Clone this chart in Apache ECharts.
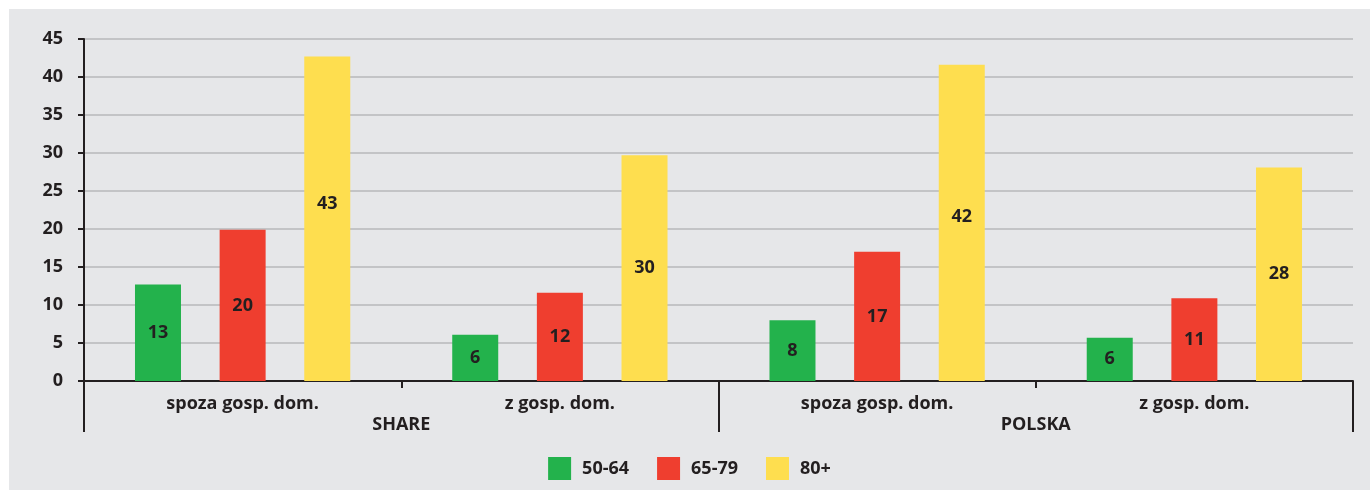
<!DOCTYPE html>
<html>
<head>
<meta charset="utf-8">
<script src="https://cdn.jsdelivr.net/npm/echarts@6/dist/echarts.min.js"></script>
<style>
  html, body { margin: 0; padding: 0; background: #ffffff; width: 1370px; height: 490px; overflow: hidden; }
  #chart { position: absolute; left: 9px; top: 9px; width: 1361px; height: 481px; background: #e6e7e9; }
</style>
</head>
<body>
<div id="chart"></div>
<script>
// Data
const categories = ['spoza gosp. dom.', 'z gosp. dom.', 'spoza gosp. dom.', 'z gosp. dom.'];
const groups = ['SHARE', 'POLSKA'];
const seriesNames = ['50-64', '65-79', '80+'];
const values5064 = [12.7, 6.1, 8.0, 5.7];
const values6579 = [19.9, 11.6, 17.0, 10.9];
const values80 = [42.7, 29.7, 41.6, 28.1];
const yTicks = [0, 5, 10, 15, 20, 25, 30, 35, 40, 45];

const colors = ['#23b24c', '#ef3e2f', '#fede4f'];
const textColor = '#231f20';
const fontFamily = '"Open Sans", "Noto Sans", sans-serif';
const fs = 18;

const chart = echarts.init(document.getElementById('chart'));

// vertical label nudges (pixels) as in the reference, keyed by series index and category index
const labelNudge = { '2-0': -15, '2-2': -6 };

function makeSeries(idx, name, data, color) {
  return {
    name: name,
    type: 'bar',
    data: data.map((v, i) => {
      const n = labelNudge[idx + '-' + i];
      return n ? { value: v, label: { offset: [0, n] } } : v;
    }),
    barWidth: 46,
    barGap: '84%',
    itemStyle: { color: color },
    label: {
      show: true,
      position: 'inside',
      color: textColor,
      fontFamily: fontFamily,
      fontWeight: 'bold',
      fontSize: fs,
      formatter: p => String(Math.round(p.value))
    }
  };
}

chart.setOption({
  animation: false,
  textStyle: { fontFamily: fontFamily },
  grid: { left: 75, right: 17, top: 30, bottom: 109, containLabel: false },
  legend: {
    data: seriesNames,
    left: 'center',
    top: 443,
    itemWidth: 23,
    itemHeight: 23,
    itemGap: 28,
    icon: 'rect',
    textStyle: { color: textColor, fontSize: fs, fontWeight: 'bold', fontFamily: fontFamily, padding: [0, 0, 0, 6] }
  },
  xAxis: [
    {
      type: 'category',
      data: categories,
      position: 'bottom',
      axisLine: { show: true, lineStyle: { color: textColor, width: 2 } },
      axisTick: { show: true, interval: 0, length: 7, lineStyle: { color: textColor, width: 2 } },
      axisLabel: { interval: 0, margin: 14, color: textColor, fontSize: fs, fontWeight: 'bold', fontFamily: fontFamily }
    },
    {
      type: 'category',
      data: groups,
      position: 'bottom',
      axisLine: { show: false },
      axisTick: { show: true, interval: 0, length: 51, lineStyle: { color: textColor, width: 2 } },
      axisLabel: { interval: 0, margin: 35, color: textColor, fontSize: fs, fontWeight: 'bold', fontFamily: fontFamily },
      splitLine: { show: false }
    }
  ],
  yAxis: {
    type: 'value',
    min: yTicks[0],
    max: yTicks[yTicks.length - 1],
    interval: 5,
    axisLine: { show: true, lineStyle: { color: textColor, width: 2 } },
    axisTick: { show: true, length: 6, lineStyle: { color: textColor, width: 2 } },
    axisLabel: { margin: 21, color: textColor, fontSize: fs, fontWeight: 'bold', fontFamily: fontFamily },
    splitLine: { show: true, lineStyle: { color: '#b7b8ba', width: 1.5 } }
  },
  series: [
    makeSeries(0, seriesNames[0], values5064, colors[0]),
    makeSeries(1, seriesNames[1], values6579, colors[1]),
    makeSeries(2, seriesNames[2], values80, colors[2])
  ]
});
</script>
</body>
</html>
